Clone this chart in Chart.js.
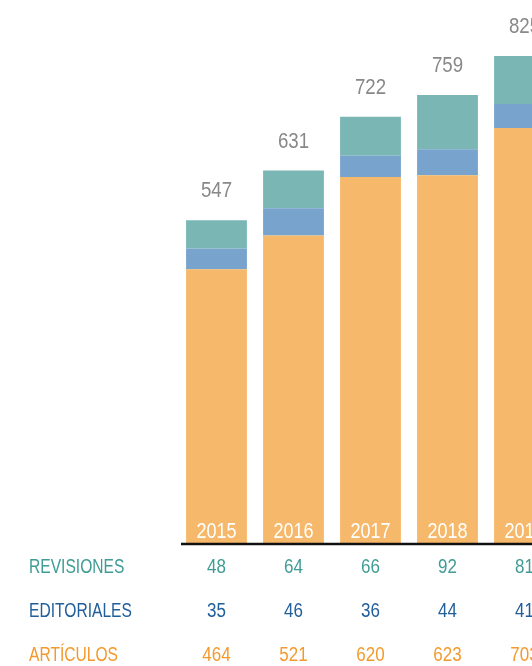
<!DOCTYPE html>
<html>
<head>
<meta charset="utf-8">
<script src="https://cdn.jsdelivr.net/npm/chart.js@4"></script>
<style>
  html, body { margin: 0; padding: 0; background: #fff; overflow: hidden; }
</style>
</head>
<body>
<canvas id="myChart" width="570" height="666"></canvas>
<script>
// datos
var years = ['2015', '2016', '2017', '2018', '2019'];
var revisiones = [48, 64, 66, 92, 81];
var editoriales = [35, 46, 36, 44, 41];
var articulos = [464, 521, 620, 623, 703];
var totales = [547, 631, 722, 759, 825];
var rowNames = ['REVISIONES', 'EDITORIALES', 'ARTÍCULOS'];

var FONT = '"Liberation Sans", Arial, sans-serif';

// texto "condensado": escala horizontal
function narrowText(c, txt, x, y, sx) {
    c.save();
    c.translate(x, y);
    c.scale(sx, 1);
    c.fillText(txt, 0, 0);
    c.restore();
}

var tablePlugin = {
    id: 'tablePlugin',
    afterDatasetsDraw: function (chart) {
        var c = chart.ctx;
        var x = chart.scales.x;
        var y = chart.scales.y;
        var area = chart.chartArea;
        c.save();

        // linea base
        c.strokeStyle = '#111';
        c.lineWidth = 2.5;
        c.beginPath();
        c.moveTo(181, area.bottom + 1);
        c.lineTo(chart.width, area.bottom + 1);
        c.stroke();

        c.textAlign = 'center';
        c.textBaseline = 'alphabetic';
        years.forEach(function (yr, i) {
            var cx = x.getPixelForValue(i);
            c.font = '22px ' + FONT;
            c.fillStyle = '#ffffff';
            narrowText(c, yr, cx, area.bottom - 5, 0.82);
            c.fillStyle = '#888888';
            narrowText(c, totales[i], cx, y.getPixelForValue(totales[i]) - 23, 0.85);
        });

        // tabla
        var rows = [revisiones, editoriales, articulos];
        var colors = ['#3f9c95', '#215e9a', '#f39a2e'];
        var rowY = [567, 611, 655];
        c.textBaseline = 'middle';
        c.font = '20px ' + FONT;
        rows.forEach(function (vals, r) {
            c.fillStyle = colors[r];
            c.textAlign = 'left';
            narrowText(c, rowNames[r], 29, rowY[r], 0.78);
            c.textAlign = 'center';
            vals.forEach(function (v, i) {
                narrowText(c, v, x.getPixelForValue(i), rowY[r], 0.85);
            });
        });
        c.restore();
    }
};

var ctx = document.getElementById('myChart');
var myChart = new Chart(ctx, {
    type: 'bar',
    data: {
        labels: years,
        datasets: [{
            label: 'ARTÍCULOS',
            data: articulos,
            backgroundColor: '#f6b86a'
        }, {
            label: 'EDITORIALES',
            data: editoriales,
            backgroundColor: '#78a3cd'
        }, {
            label: 'REVISIONES',
            data: revisiones,
            backgroundColor: '#7ab7b4'
        }]
    },
    options: {
        responsive: false,
        animation: false,
        events: [],
        layout: { padding: { left: 178, right: 7, top: 0, bottom: 123 } },
        datasets: { bar: { categoryPercentage: 1, barPercentage: 0.79, borderWidth: 0 } },
        plugins: { legend: { display: false }, tooltip: { enabled: false } },
        scales: {
            x: { stacked: true, display: false },
            y: { stacked: true, display: false, min: 0, max: 920 }
        }
    },
    plugins: [tablePlugin]
});
</script>
</body>
</html>
